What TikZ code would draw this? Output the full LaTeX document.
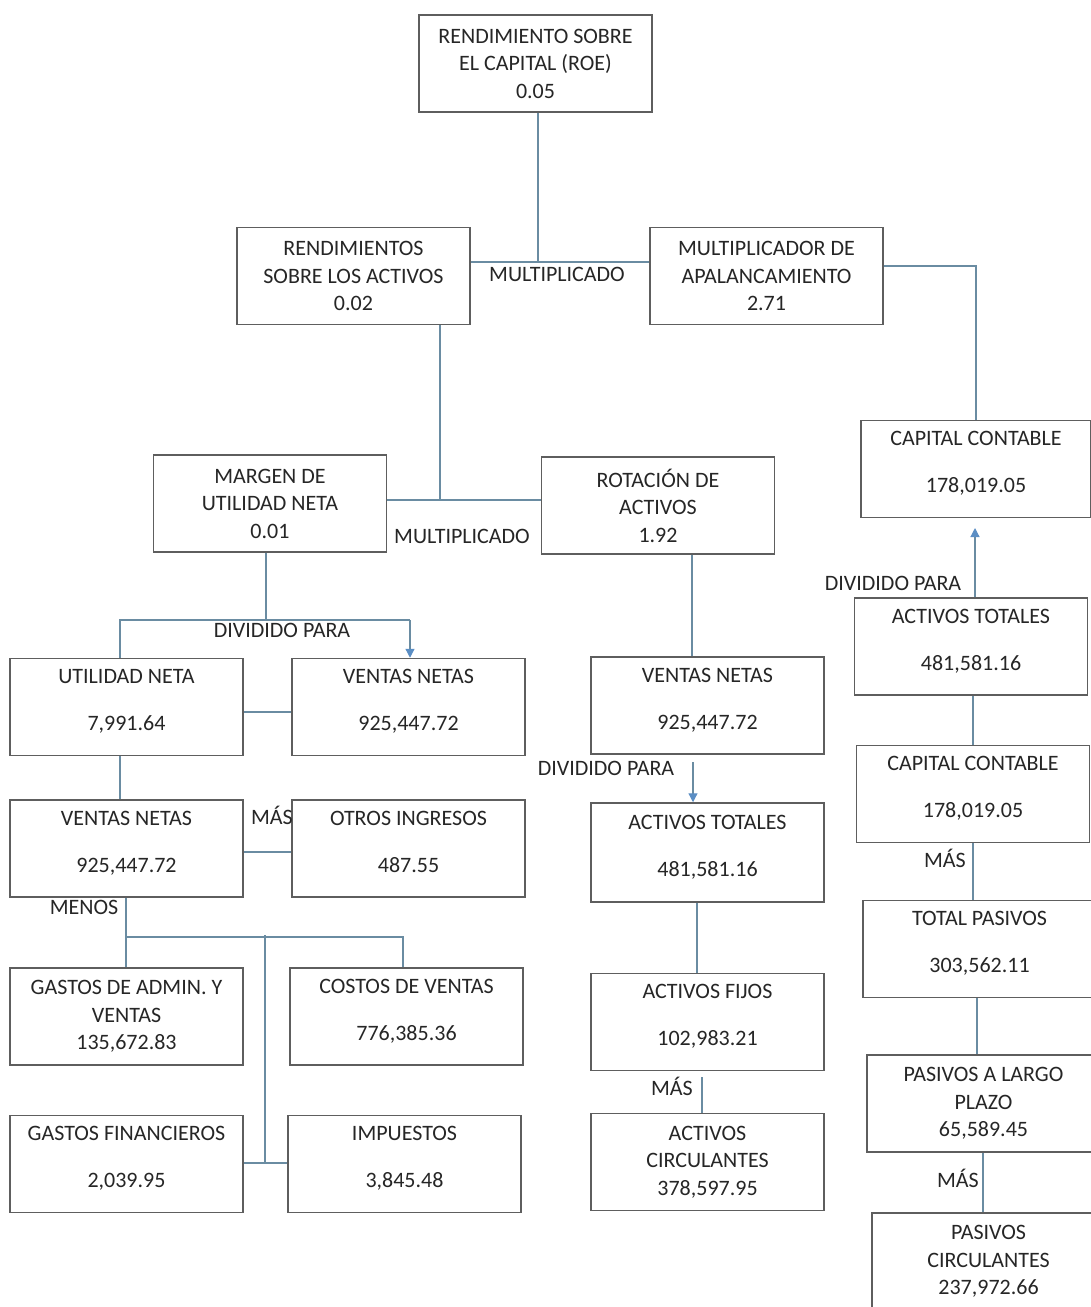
\documentclass[tikz,border=0pt]{standalone}
\usepackage{fontspec}
\setmainfont{Carlito}
\usetikzlibrary{arrows.meta}
\definecolor{boxgray}{HTML}{5E5E5E}
\definecolor{txtgray}{HTML}{262626}
\definecolor{lnblue}{HTML}{6A8CA2}
\definecolor{tipblue}{HTML}{5B8EC4}
\tikzset{
  box/.style={draw=boxgray, line width=0.75pt, minimum width=116.5pt, minimum height=48.5pt,
    align=center, inner sep=2pt, text=txtgray, font=\fontsize{11}{13.75}\selectfont},
  twoline/.style={text depth=7pt},
  lbl/.style={inner sep=0pt, text=txtgray, font=\fontsize{11}{13.75}\selectfont},
  conn/.style={draw=lnblue, line width=0.6pt},
  arr/.style={conn, -{Triangle[width=4.5pt,length=4.5pt,fill=tipblue,color=tipblue]}}
}
\newcommand{\gp}{\\[9.75pt]}
\begin{document}
\begin{tikzpicture}[x=0.5pt,y=-0.5pt]
\useasboundingbox (0,0) rectangle (1091,1307);
\clip (0,0) rectangle (1091,1307);
\fill[white] (0,0) rectangle (1091,1307);
% boxes
\node[box] (roe) at (535.5,63.5) {RENDIMIENTO SOBRE\\EL CAPITAL (ROE)\\0.05};
\node[box] (rsa) at (353.5,276) {RENDIMIENTOS\\SOBRE LOS ACTIVOS\\0.02};
\node[box] (map) at (766.5,276) {MULTIPLICADOR DE\\APALANCAMIENTO\\2.71};
\node[box, twoline, minimum width=115pt] (cc1) at (976,469) {CAPITAL CONTABLE\gp 178,019.05};
\node[box] (mun) at (270,503.5) {MARGEN DE\\UTILIDAD NETA\\0.01};
\node[box] (rot) at (658,505.5) {ROTACIÓN DE\\ACTIVOS\\1.92};
\node[box, twoline] (un) at (126.5,707) {UTILIDAD NETA\gp 7,991.64};
\node[box, twoline] (vn1) at (408.5,707) {VENTAS NETAS\gp 925,447.72};
\node[box, twoline] (vn2) at (126.5,848.5) {VENTAS NETAS\gp 925,447.72};
\node[box, twoline] (oi) at (408.5,848.5) {OTROS INGRESOS\gp 487.55};
\node[box] (gav) at (126.5,1016.5) {GASTOS DE ADMIN. Y\\VENTAS\\135,672.83};
\node[box, twoline] (cv) at (406.5,1016.5) {COSTOS DE VENTAS\gp 776,385.36};
\node[box, twoline] (gf) at (126.5,1164) {GASTOS FINANCIEROS\gp 2,039.95};
\node[box, twoline] (imp) at (404.5,1164) {IMPUESTOS\gp 3,845.48};
\node[box, twoline] (vn3) at (707.5,705.5) {VENTAS NETAS\gp 925,447.72};
\node[box, twoline, minimum height=49.5pt] (at1) at (707.5,852.5) {ACTIVOS TOTALES\gp 481,581.16};
\node[box, twoline] (af) at (707.5,1022) {ACTIVOS FIJOS\gp 102,983.21};
\node[box] (ac) at (707.5,1162) {ACTIVOS\\CIRCULANTES\\378,597.95};
\node[box, twoline] (at2) at (971,646.5) {ACTIVOS TOTALES\gp 481,581.16};
\node[box, twoline] (cc2) at (973,794) {CAPITAL CONTABLE\gp 178,019.05};
\node[box, twoline] (tp) at (979.5,949) {TOTAL PASIVOS\gp 303,562.11};
\node[box] (pl) at (983.5,1103.5) {PASIVOS A LARGO\\PLAZO\\65,589.45};
\node[box] (pc) at (988.5,1261.5) {PASIVOS\\CIRCULANTES\\237,972.66};
% junction coordinates
\coordinate (j1) at (538,262);
\coordinate (j2) at (976,266);
\coordinate (j3) at (440,500);
\coordinate (j4) at (266,620);
\coordinate (j4l) at (120,620);
\coordinate (j4r) at (410,620);
\coordinate (j5) at (0,712);
\coordinate (j6) at (0,852);
\coordinate (j7) at (126,937);
\coordinate (j7r) at (403,937);
\coordinate (j8) at (265,935);
\coordinate (j8b) at (265,1163);
\coordinate (a1) at (693,762);
\coordinate (a2) at (702,1077);
\coordinate (a3) at (975,528);
% connectors
\draw[conn] (roe.south -| j1) -- (j1);
\draw[conn] (rsa.east |- j1) -- (map.west |- j1);
\draw[conn] (map.east |- j2) -- (j2) -- (j2 |- cc1.north);
\draw[conn] (rsa.south -| j3) -- (j3);
\draw[conn] (mun.east |- j3) -- (rot.west |- j3);
\draw[conn] (mun.south -| j4) -- (j4);
\draw[conn] (un.north -| j4l) -- (j4l) -- (j4r);
\draw[arr] (j4r) -- (vn1.north -| j4r);
\draw[conn] (un.east |- j5) -- (vn1.west |- j5);
\draw[conn] (un.south -| j4l) -- (vn2.north -| j4l);
\draw[conn] (vn2.east |- j6) -- (oi.west |- j6);
\draw[conn] (vn2.south -| j7) -- (j7) -- (j7r) -- (cv.north -| j7r);
\draw[conn] (j7) -- (gav.north -| j7);
\draw[conn] (j8) -- (j8b);
\draw[conn] (gf.east |- j8b) -- (imp.west |- j8b);
\draw[conn] (rot.south -| 692,0) -- (vn3.north -| 692,0);
\draw[arr] (a1) -- (at1.north -| a1);
\draw[conn] (at1.south -| 697,0) -- (af.north -| 697,0);
\draw[conn] (a2) -- (ac.north -| a2);
\draw[arr] (at2.north -| a3) -- (a3);
\draw[conn] (at2.south -| 973,0) -- (cc2.north -| 973,0);
\draw[conn] (cc2.south -| 973,0) -- (tp.north -| 973,0);
\draw[conn] (tp.south -| 977,0) -- (pl.north -| 977,0);
\draw[conn] (pl.south -| 983,0) -- (pc.north -| 983,0);
% labels
\node[lbl] (l1) at (557,274) {MULTIPLICADO};
\node[lbl] (l2) at (462,536) {MULTIPLICADO};
\node[lbl] (l3) at (282,630) {DIVIDIDO PARA};
\node[lbl] (l4) at (272,815) {MÁS};
\node[lbl] (l5) at (84,907) {MENOS};
\node[lbl] (l6) at (606,768) {DIVIDIDO PARA};
\node[lbl] (l7) at (672,1086) {MÁS};
\node[lbl] (l8) at (893,583) {DIVIDIDO PARA};
\node[lbl] (l9) at (945,858) {MÁS};
\node[lbl] (l10) at (958,1178) {MÁS};
\end{tikzpicture}
\end{document}
